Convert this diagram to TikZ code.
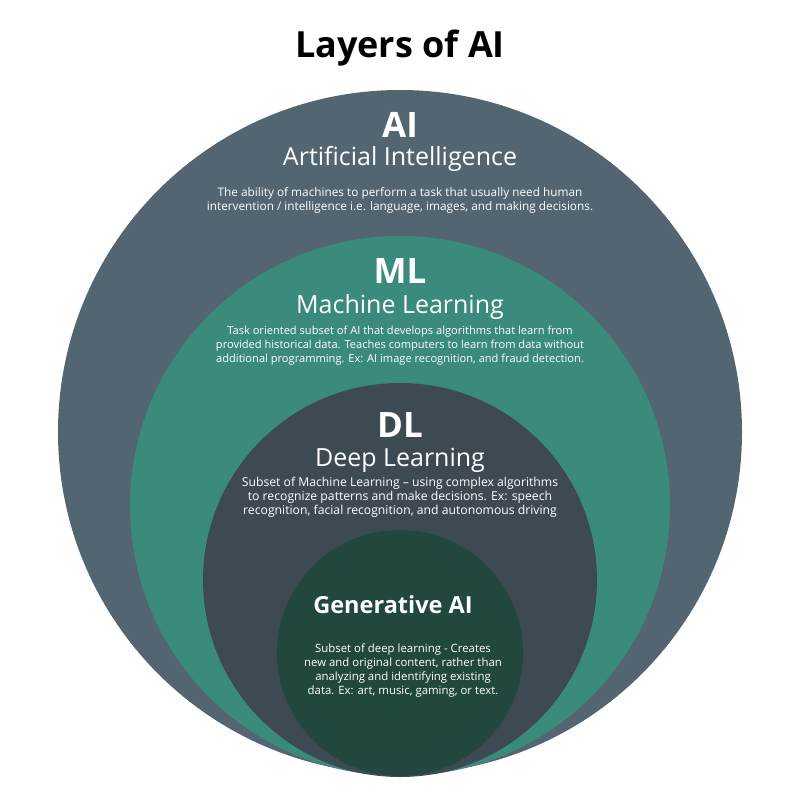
\documentclass[tikz,border=0pt]{standalone}
\usepackage{fontspec}
\setmainfont{Open Sans}
\definecolor{aigray}{RGB}{83,101,112}
\definecolor{mlteal}{RGB}{59,139,125}
\definecolor{dlslate}{RGB}{61,74,82}
\definecolor{gengreen}{RGB}{33,71,63}

\begin{document}
\begin{tikzpicture}[x=1pt, y=-1pt, layer/.style = {circle, inner sep=0pt, minimum size=#1}, abbr/.style = {text=white, font=\fontsize{35}{35}\selectfont\bfseries, anchor=base}, fullname/.style = {text=white, font=\fontsize{25}{25}\selectfont, anchor=base}, blurb/.style = {text=white, align=center, inner sep=0pt, font=\fontsize{#1}{14}\selectfont, anchor=base}]
                    \useasboundingbox (0,0) rectangle (800,800);
                    % nested layers, all touching at the bottom
                    \foreach \nm/\cy/\d/\col in {ai/432/684/aigray, ml/506/540/mlteal, dl/580/394/dlslate, gen/653/246/gengreen}
                    {%
                        \node[layer=\d pt, fill=\col] (\nm) at (400,\cy) {};
                    };
                    \node[anchor=base, font=\fontsize{36}{36}\selectfont\bfseries] (title) at (400,57) {Layers of AI};
                    % AI (blurb is anchored on its last line)
                    \node[abbr] (aiabbr) at (400,137) {AI};
                    \node[fullname] (ainame) at (400,165) {Artificial Intelligence};
                    \node[blurb=11.8] (aitext) at (400,210) {The ability of machines to perform a task that usually need human\\intervention / intelligence i.e. language, images, and making decisions.};
                    % ML
                    \node[abbr] (mlabbr) at (400,283) {ML};
                    \node[fullname] (mlname) at (400,313) {Machine Learning};
                    \node[blurb=11.1] (mltext) at (400,362) {Task oriented subset of AI that develops algorithms that learn from\\provided historical data. Teaches computers to learn from data without\\additional programming. Ex: AI image recognition, and fraud detection.};
                    % DL
                    \node[abbr] (dlabbr) at (400,437) {DL};
                    \node[fullname] (dlname) at (400,466) {Deep Learning};
                    \node[blurb=12.2] (dltext) at (400,514) {Subset of Machine Learning -- using complex algorithms\\to recognize patterns and make decisions. Ex: speech\\recognition, facial recognition, and autonomous driving};
                    % Generative AI
                    \node[anchor=base, text=white, font=\fontsize{23.5}{23.5}\selectfont\bfseries] (genname) at (393,613) {Generative AI};
                    \node[blurb=11.4] (gentext) at (403,694) {Subset of deep learning - Creates\\new and original content, rather than\\analyzing and identifying existing\\data. Ex: art, music, gaming, or text.};
            \end{tikzpicture}
\end{document}
